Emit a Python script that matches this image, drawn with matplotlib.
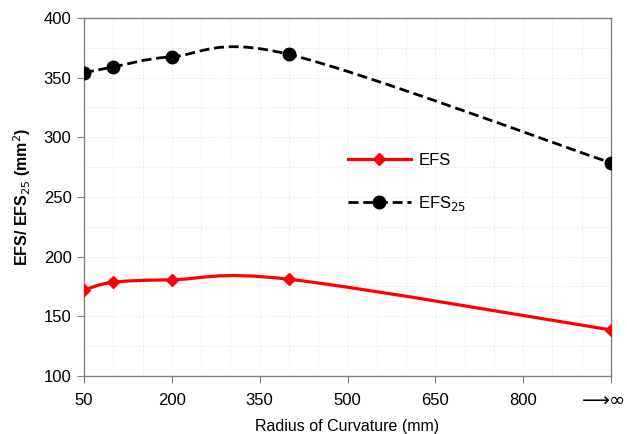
import matplotlib
matplotlib.use('Agg')
import matplotlib.pyplot as plt
from matplotlib.path import Path
from matplotlib.patches import PathPatch
from matplotlib.lines import Line2D
from matplotlib.ticker import MultipleLocator
from matplotlib.transforms import ScaledTranslation

plt.rcParams['font.family'] = ['Liberation Sans', 'DejaVu Sans']

# Data (infinity plotted at 950)
radius = [50, 100, 200, 400, 950]
efs = [172, 178.5, 180.5, 181, 138.5]
efs25 = [354, 359, 367.5, 369.5, 278.5]

xticks = [50, 200, 350, 500, 650, 800, 950]
xtick_labels = ['50', '200', '350', '500', '650', '800', '\u27f6\u221e']

DASH = (0, (3.6, 1.7))


# Excel-style smoothed line: bezier segments through the data points
def smooth_path(xs, ys):
    pts = list(zip(xs, ys))
    n = len(pts)
    verts = [pts[0]]
    codes = [Path.MOVETO]
    for i in range(n - 1):
        p0 = pts[max(i - 1, 0)]
        p1 = pts[i]
        p2 = pts[i + 1]
        p3 = pts[min(i + 2, n - 1)]
        c1 = (p1[0] + (p2[0] - p0[0]) / 6, p1[1] + (p2[1] - p0[1]) / 6)
        c2 = (p2[0] - (p3[0] - p1[0]) / 6, p2[1] - (p3[1] - p1[1]) / 6)
        verts += [c1, c2, p2]
        codes += [Path.CURVE4] * 3
    return Path(verts, codes)


fig = plt.figure(figsize=(6.27, 4.34), dpi=100)
ax = fig.add_axes([0.134, 0.134, 0.8405, 0.8245])

ax.add_patch(PathPatch(smooth_path(radius, efs), facecolor='none',
                       edgecolor='#ff0000', lw=2.3, zorder=3))
ax.plot(radius, efs, linestyle='none', marker='D', color='#ff0000',
        markersize=6.5, zorder=4)

ax.add_patch(PathPatch(smooth_path(radius, efs25), facecolor='none',
                       edgecolor='black', lw=2.0, linestyle=DASH, zorder=3))
ax.plot(radius, efs25, linestyle='none', marker='o', color='black',
        markersize=9, zorder=4)

ax.set_xlim(50, 950)
ax.set_ylim(100, 400)
ax.set_xticks(xticks)
ax.set_xticklabels(xtick_labels)
ax.set_yticks(range(100, 401, 50))
ax.xaxis.set_minor_locator(MultipleLocator(50))
ax.yaxis.set_minor_locator(MultipleLocator(25))
ax.grid(True, which='both', color='#ececec', lw=0.6, linestyle=(0, (3, 2)))
ax.set_axisbelow(True)

for s in ax.spines.values():
    s.set_color('#808080')
    s.set_linewidth(1.0)
ax.tick_params(which='major', direction='out', length=5, color='#808080',
               labelsize=12)
ax.tick_params(axis='x', which='major', pad=7)
ax.tick_params(axis='y', which='major', pad=4)
ax.tick_params(which='minor', length=0)

# the infinity label sits to the left so it stays inside the figure
inf_label = ax.get_xticklabels()[-1]
inf_label.set_fontfamily('DejaVu Sans')
inf_label.set_fontsize(14)
inf_label.set_horizontalalignment('right')
inf_label.set_transform(inf_label.get_transform() +
                        ScaledTranslation(0.15, 0.01, fig.dpi_scale_trans))

ax.set_xlabel('Radius of Curvature (mm)', fontsize=11.5, labelpad=6)
ax.set_ylabel('EFS/ EFS$_{25}$ (mm$^2$)', fontsize=11.5, fontweight='bold', labelpad=8)

handles = [
    Line2D([], [], color='#ff0000', lw=2.3, marker='D', markersize=6.5),
    Line2D([], [], color='black', lw=2.0, linestyle=DASH, marker='o', markersize=9),
]
ax.legend(handles, ['EFS', 'EFS$_{25}$'], loc='center left',
          bbox_to_anchor=(0.5, 0.54), frameon=False, fontsize=12,
          handlelength=3.8, labelspacing=1.55, borderpad=0, borderaxespad=0,
          handletextpad=0.45)

fig.savefig('out.png', dpi=100)
